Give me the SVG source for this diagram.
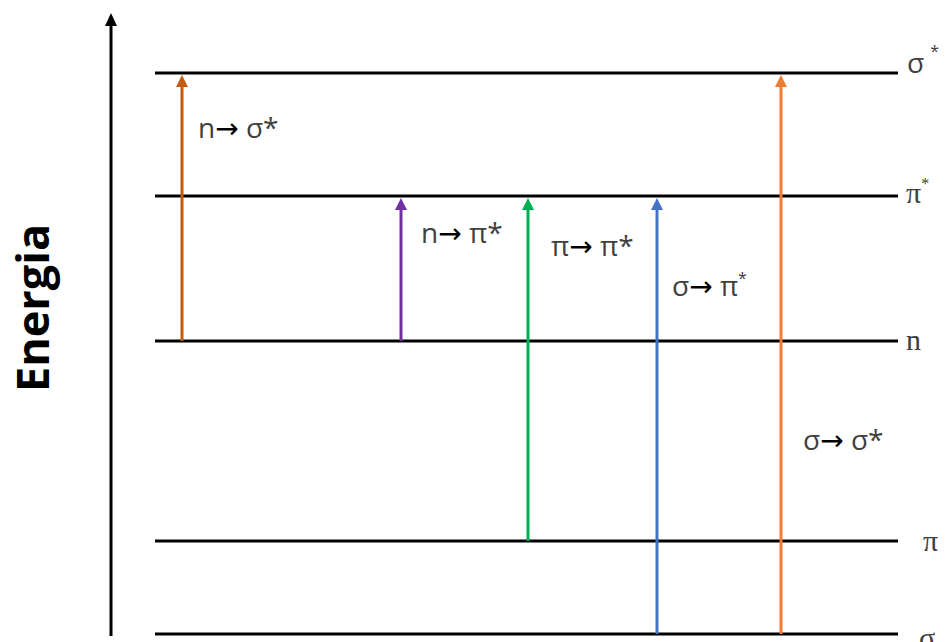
<svg xmlns="http://www.w3.org/2000/svg" width="945" height="642" viewBox="0 0 945 642">
<style>
.lvl{stroke:#000;stroke-width:3;fill:none}
.tr{stroke-width:3;fill:none}
.lab{font-family:"Open Sans","Noto Sans","DejaVu Sans",sans-serif;font-size:28px;fill:#404040}
.ar{font-family:"DejaVu Sans",sans-serif;fill:#000}
.sym{font-family:"Liberation Serif","DejaVu Serif",serif;font-size:30px;fill:#404040}
.sup{font-size:16px}
</style>
<defs>
<marker id="hk" markerUnits="userSpaceOnUse" markerWidth="14" markerHeight="12" refX="6" refY="6" orient="auto"><path d="M0,0 L13,6 L0,12 z" fill="#000"/></marker>
<marker id="h1" markerUnits="userSpaceOnUse" markerWidth="14" markerHeight="12" refX="6" refY="6" orient="auto"><path d="M0,0 L12,6 L0,12 z" fill="#C55A11"/></marker>
<marker id="h2" markerUnits="userSpaceOnUse" markerWidth="14" markerHeight="12" refX="6" refY="6" orient="auto"><path d="M0,0 L12,6 L0,12 z" fill="#7030A0"/></marker>
<marker id="h3" markerUnits="userSpaceOnUse" markerWidth="14" markerHeight="12" refX="6" refY="6" orient="auto"><path d="M0,0 L12,6 L0,12 z" fill="#00B050"/></marker>
<marker id="h4" markerUnits="userSpaceOnUse" markerWidth="14" markerHeight="12" refX="6" refY="6" orient="auto"><path d="M0,0 L12,6 L0,12 z" fill="#4472C4"/></marker>
<marker id="h5" markerUnits="userSpaceOnUse" markerWidth="14" markerHeight="12" refX="6" refY="6" orient="auto"><path d="M0,0 L12,6 L0,12 z" fill="#ED7D31"/></marker>
</defs>
<rect width="945" height="642" fill="#fff"/>
<g id="axis">
<line x1="111" y1="636" x2="111" y2="20" stroke="#000" stroke-width="3" marker-end="url(#hk)"/>
<text transform="translate(49,308) rotate(-90)" text-anchor="middle" font-family="'Open Sans','Noto Sans',sans-serif" font-weight="bold" font-size="45" fill="#000">Energia</text>
</g>
<g id="levels">
<g id="lvl-sigma-star"><line class="lvl" x1="155" y1="73" x2="898" y2="73"/><text class="lab" x="907" y="73" font-size="28">σ<tspan class="sup" dx="6" dy="-16">*</tspan></text></g>
<g id="lvl-pi-star"><line class="lvl" x1="155" y1="196" x2="898" y2="196"/><text class="sym" x="906" y="203" font-size="32">π<tspan class="sup" dy="-14">*</tspan></text></g>
<g id="lvl-n"><line class="lvl" x1="155" y1="341" x2="898" y2="341"/><text class="sym" x="906" y="350" font-size="33">n</text></g>
<g id="lvl-pi"><line class="lvl" x1="155" y1="541" x2="898" y2="541"/><text class="sym" x="923" y="551" font-size="31">π</text></g>
<g id="lvl-sigma"><line class="lvl" x1="155" y1="634" x2="898" y2="634"/><text class="sym" x="919" y="648" font-size="31">σ</text></g>
</g>
<g id="connectors">
<line class="tr" stroke="#C55A11" x1="182" y1="341" x2="182" y2="81" marker-end="url(#h1)"/>
<line class="tr" stroke="#7030A0" x1="401" y1="341" x2="401" y2="204" marker-end="url(#h2)"/>
<line class="tr" stroke="#00B050" x1="528" y1="541" x2="528" y2="204" marker-end="url(#h3)"/>
<line class="tr" stroke="#4472C4" x1="657" y1="634" x2="657" y2="204" marker-end="url(#h4)"/>
<line class="tr" stroke="#ED7D31" x1="781" y1="634" x2="781" y2="81" marker-end="url(#h5)"/>
</g>
<g id="labels">
<text class="lab" x="198" y="138">n<tspan class="ar">→</tspan> σ*</text>
<text class="lab" x="421" y="243">n<tspan class="ar">→</tspan> π*</text>
<text class="lab" x="551" y="256">π<tspan class="ar">→</tspan> π*</text>
<text class="lab" x="672" y="296">σ<tspan class="ar">→</tspan> π<tspan class="sup" dy="-12">*</tspan></text>
<text class="lab" x="803" y="450">σ<tspan class="ar">→</tspan> σ*</text>
</g>
</svg>
